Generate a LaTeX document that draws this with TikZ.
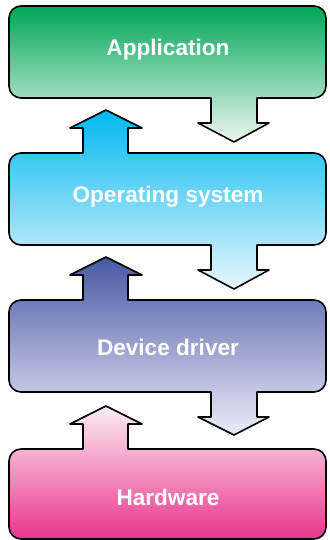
\documentclass[tikz,border=0pt]{standalone}
\usepackage{fontspec}
\setmainfont{Liberation Sans}
\usepackage{xcolor}
\usepackage{tikz}

\definecolor{apptop}{RGB}{0,166,88}
\definecolor{appbot}{RGB}{238,247,240}
\definecolor{ostop}{RGB}{0,184,240}
\definecolor{osbot}{RGB}{232,246,252}
\definecolor{ddtop}{RGB}{72,88,164}
\definecolor{ddbot}{RGB}{236,236,248}
\definecolor{hwtop}{RGB}{253,238,245}
\definecolor{hwbot}{RGB}{232,52,140}

\begin{document}
\begin{tikzpicture}[x=1pt, y=1pt,
    layer/.style={draw=black, line width=1.6pt, line join=round},
    caption/.style={text=white, font=\bfseries\fontsize{22.6}{26}\selectfont}]
\useasboundingbox (0,0) rectangle (329,540);

% Application
\path[layer, top color=apptop, bottom color=appbot]
    (21,534) -- (314,534) arc[start angle=90, end angle=0, radius=12]
    -- (326,454) arc[start angle=0, end angle=-90, radius=12]
    -- (257,442) -- (257,417) -- (269,417) -- (234,398) -- (198,417) -- (211,417) -- (211,442)
    -- (21,442) arc[start angle=270, end angle=180, radius=12]
    -- (9,522) arc[start angle=180, end angle=90, radius=12] -- cycle;

% Operating system
\path[layer, top color=ostop, bottom color=osbot]
    (21,387) -- (83,387) -- (83,412) -- (70,412) -- (106,430) -- (142,412) -- (128,412) -- (128,387)
    -- (314,387) arc[start angle=90, end angle=0, radius=12]
    -- (326,307) arc[start angle=0, end angle=-90, radius=12]
    -- (257,295) -- (257,270) -- (269,270) -- (234,251) -- (198,270) -- (211,270) -- (211,295)
    -- (21,295) arc[start angle=270, end angle=180, radius=12]
    -- (9,375) arc[start angle=180, end angle=90, radius=12] -- cycle;

% Device driver
\path[layer, top color=ddtop, bottom color=ddbot]
    (21,240) -- (83,240) -- (83,265) -- (70,265) -- (106,283) -- (142,265) -- (128,265) -- (128,240)
    -- (314,240) arc[start angle=90, end angle=0, radius=12]
    -- (326,160) arc[start angle=0, end angle=-90, radius=12]
    -- (257,148) -- (257,123) -- (269,123) -- (234,105) -- (198,123) -- (211,123) -- (211,148)
    -- (21,148) arc[start angle=270, end angle=180, radius=12]
    -- (9,228) arc[start angle=180, end angle=90, radius=12] -- cycle;

% Hardware
\path[layer, top color=hwtop, bottom color=hwbot]
    (21,91) -- (83,91) -- (83,116) -- (70,116) -- (106,134) -- (142,116) -- (128,116) -- (128,91)
    -- (314,91) arc[start angle=90, end angle=0, radius=12]
    -- (326,13) arc[start angle=0, end angle=-90, radius=12]
    -- (21,1) arc[start angle=270, end angle=180, radius=12]
    -- (9,79) arc[start angle=180, end angle=90, radius=12] -- cycle;

\node (app) at (168,490) [caption] {Application};
\node (os) at (168,343) [caption] {Operating system};
\node (dd) at (168,193) [caption] {Device driver};
\node (hw) at (168,43) [caption] {Hardware};
\end{tikzpicture}
\end{document}
